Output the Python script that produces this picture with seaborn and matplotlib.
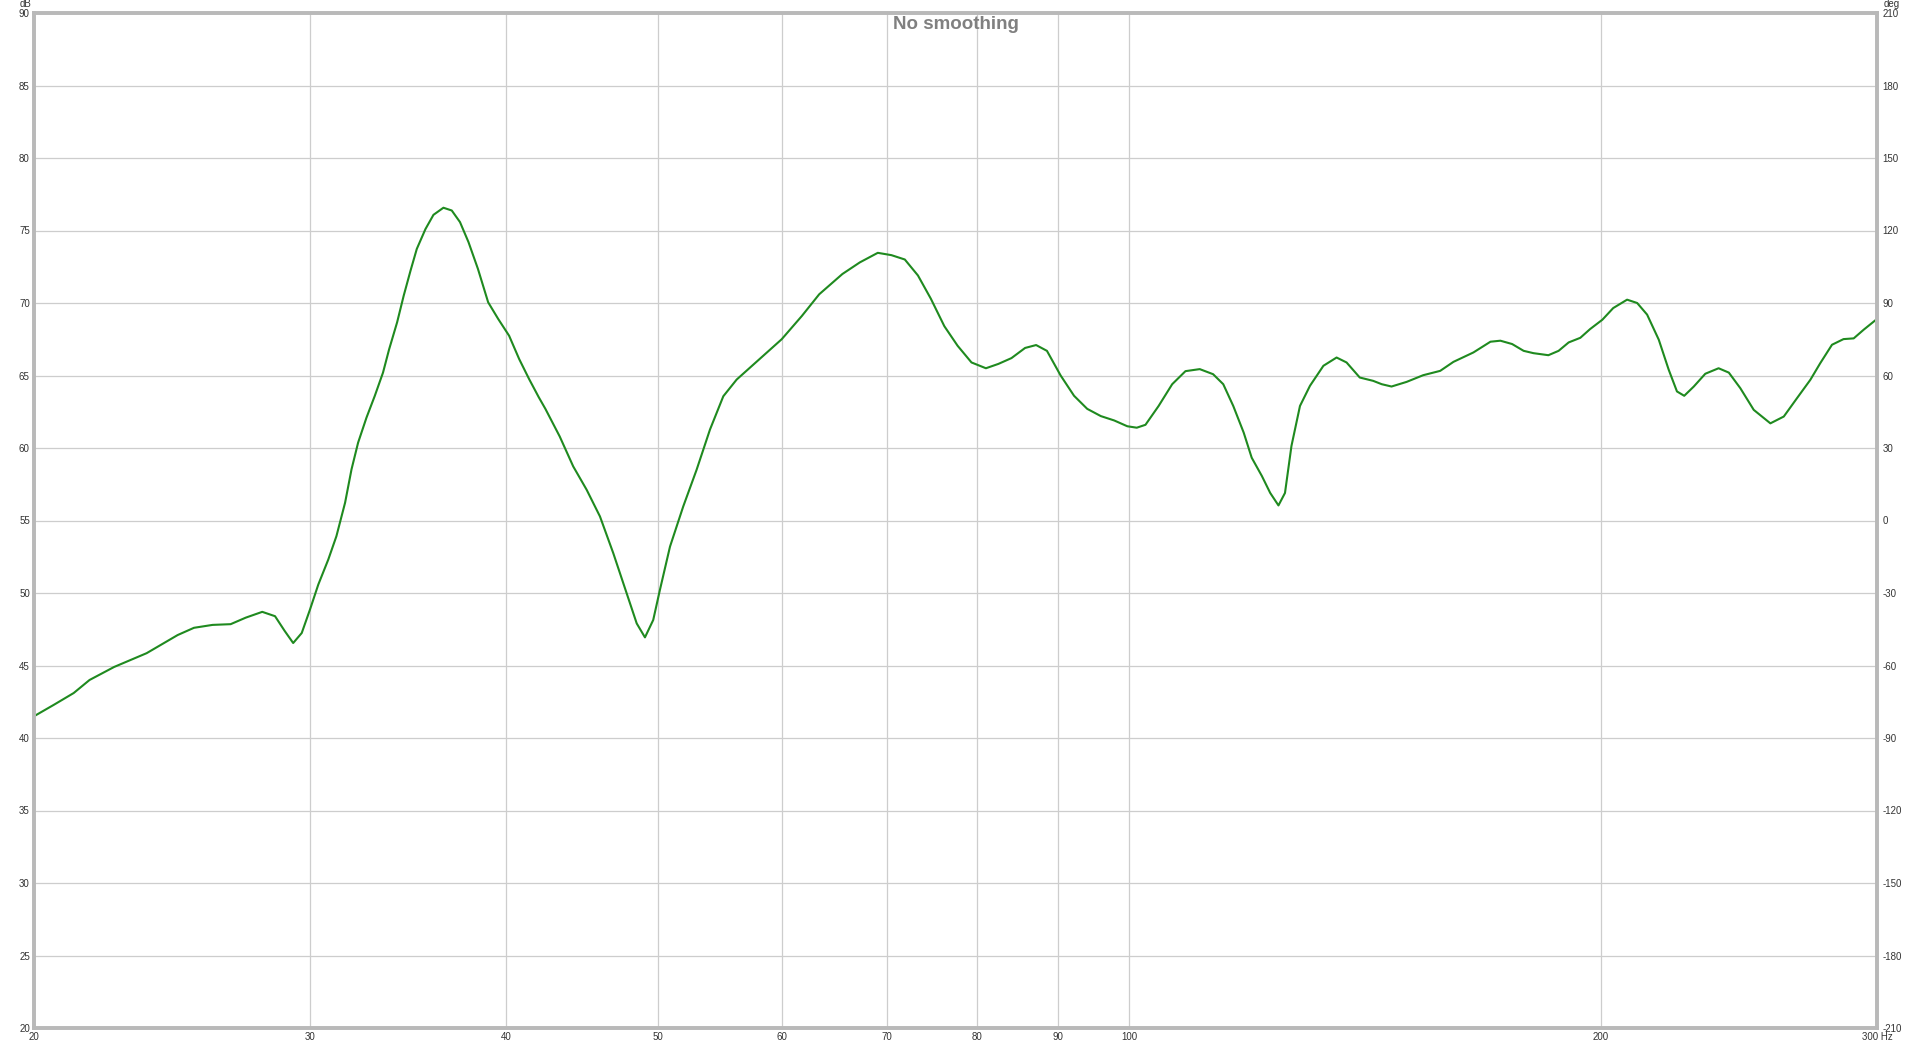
import matplotlib
matplotlib.use("Agg")
import matplotlib.pyplot as plt
import matplotlib.ticker as ticker
import seaborn as sns
import pandas as pd

# --- data (frequency in Hz, SPL in dB) ---
freq_hz = [20.0, 20.6, 21.2, 21.7, 22.5, 23.6, 24.7, 25.3, 26.0, 26.7, 27.3, 27.97,
           28.5, 28.9, 29.27, 29.64, 30.0, 30.37, 30.82, 31.19, 31.59, 31.89, 32.2,
           32.6, 33.0, 33.4, 33.7, 34.1, 34.43, 34.78, 35.1, 35.55, 35.97, 36.5,
           36.95, 37.4, 37.87, 38.4, 38.98, 39.56, 40.2, 40.8, 41.4, 41.99, 42.4,
           43.3, 44.17, 45.05, 45.94, 46.85, 47.78, 48.49, 49.08, 49.68, 50.17,
           50.92, 51.92, 52.95, 54.0, 55.07, 56.16, 57.9, 60.0, 61.8, 63.4, 65.6,
           67.3, 69.1, 70.5, 71.9, 73.3, 74.7, 76.2, 77.7, 79.3, 81.0, 82.5, 84.1,
           85.8, 87.2, 88.6, 90.4, 92.2, 94.0, 95.9, 97.8, 99.7, 101.1, 102.4,
           104.4, 106.5, 108.6, 110.9, 113.1, 114.8, 116.5, 118.3, 119.7, 121.5,
           123.0, 124.5, 125.7, 126.9, 128.5, 130.4, 133.0, 135.6, 137.6, 140.3,
           143.1, 144.9, 147.0, 150.3, 154.0, 157.9, 161.0, 165.8, 170.0, 172.5,
           175.5, 178.5, 181.1, 185.1, 187.9, 190.7, 194.0, 196.8, 200.4, 203.6,
           207.8, 210.9, 214.0, 217.7, 220.9, 223.6, 226.0, 229.2, 233.1, 237.7,
           241.3, 245.4, 250.3, 256.5, 261.6, 266.7, 272.0, 276.0, 280.8, 285.6,
           289.9, 294.2, 300.0]
spl_db = [41.5, 42.3, 43.1, 44.0, 44.9, 45.85, 47.1, 47.6, 47.8, 47.85, 48.3, 48.7,
          48.4, 47.4, 46.55, 47.24, 48.85, 50.58, 52.31, 53.92, 56.23, 58.53, 60.37,
          62.1, 63.6, 65.2, 66.8, 68.67, 70.5, 72.24, 73.73, 75.1, 76.08, 76.57,
          76.38, 75.58, 74.2, 72.35, 70.05, 68.9, 67.74, 66.13, 64.75, 63.5, 62.7,
          60.8, 58.73, 57.12, 55.28, 52.74, 49.98, 47.9, 46.94, 48.14, 50.21,
          53.2, 55.97, 58.5, 61.27, 63.57, 64.72, 66.0, 67.5, 69.1, 70.6, 72.0,
          72.8, 73.46, 73.3, 73.0, 71.9, 70.3, 68.4, 67.05, 65.9, 65.5, 65.8, 66.2,
          66.9, 67.1, 66.7, 65.0, 63.6, 62.7, 62.2, 61.9, 61.5, 61.4, 61.6,
          62.9, 64.4, 65.3, 65.44, 65.09, 64.4, 62.9, 61.06, 59.33, 58.07,
          56.9, 56.04, 56.9, 60.14, 62.9, 64.29, 65.67, 66.24, 65.9, 64.86,
          64.63, 64.4, 64.24, 64.56, 65.02, 65.32, 65.94, 66.59, 67.33, 67.4,
          67.17, 66.7, 66.54, 66.4, 66.7, 67.28, 67.6, 68.2, 68.85, 69.65,
          70.23, 70.0, 69.2, 67.47, 65.4, 63.9, 63.6, 64.24, 65.12, 65.5,
          65.2, 64.13, 62.63, 61.7, 62.17, 63.43, 64.7, 65.85, 67.12, 67.51,
          67.56, 68.16, 68.9]

x_ticks = [20, 30, 40, 50, 60, 70, 80, 90, 100, 200, 300]
x_tick_labels = ["20", "30", "40", "50", "60", "70", "80", "90", "100", "200", "300 Hz"]
db_ticks = list(range(20, 91, 5))
deg_ticks = list(range(-210, 211, 30))

df = pd.DataFrame({"freq": freq_hz, "spl": spl_db})

sns.set_style("white")
plt.rcParams["font.family"] = ["Liberation Sans", "DejaVu Sans"]
plt.rcParams["axes.unicode_minus"] = False

GRID = "#cdcdcd"
SPINE = "#b9b9b9"
LABEL = "#333333"

fig = plt.figure(figsize=(19.2, 10.48), dpi=100)
ax = fig.add_axes([34 / 1920, 1 - 1028 / 1048, (1877 - 34) / 1920, (1028 - 13) / 1048])

sns.lineplot(data=df, x="freq", y="spl", ax=ax, color="#1f8a1f", linewidth=1.5,
             estimator=None, sort=False, solid_joinstyle="round", solid_capstyle="round")

ax.set_xscale("log")
ax.set_xlim(20, 300)
ax.set_ylim(20, 90)
ax.xaxis.set_major_locator(ticker.FixedLocator(x_ticks))
ax.xaxis.set_major_formatter(ticker.FixedFormatter(x_tick_labels))
ax.xaxis.set_minor_locator(ticker.NullLocator())
ax.set_yticks(db_ticks)
ax.set_xlabel("")
ax.set_ylabel("")
ax.grid(True, color=GRID, linewidth=0.9)
ax.set_axisbelow(True)
ax.tick_params(axis="both", length=0, labelsize=7, colors=LABEL, pad=3)

ax2 = ax.twinx()
ax2.set_ylim(-210, 210)
ax2.set_yticks(deg_ticks)
ax2.tick_params(axis="y", length=0, labelsize=7, colors=LABEL, pad=4)

for a in (ax, ax2):
    for s in a.spines.values():
        s.set_color(SPINE)
        s.set_linewidth(2.6)

# unit labels and title
fig.text(20 / 1920, 1 - 4 / 1048, "dB", fontsize=7, color=LABEL, ha="left", va="center")
fig.text(1884 / 1920, 1 - 4 / 1048, "deg", fontsize=7, color=LABEL, ha="left", va="center")
ax.text(0.5, 0.997, "No smoothing", transform=ax.transAxes, ha="center", va="top",
        fontsize=13.5, fontweight="bold", color="#808080")

fig.savefig("out.png", dpi=100)
